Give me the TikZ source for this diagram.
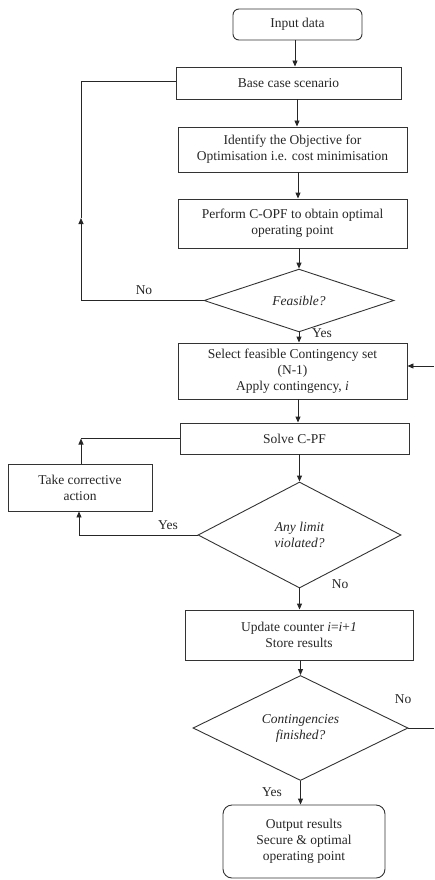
\documentclass[tikz,border=0pt]{standalone}
\usepackage{fontspec}
\setmainfont{Liberation Serif}
\usetikzlibrary{shapes.geometric,arrows.meta}
\begin{document}
\begin{tikzpicture}[x=1pt,y=-1pt,
  every node/.style={font=\fontsize{13.5}{16}\selectfont, text=black!85},
  box/.style={draw=black!80, line width=0.9pt, rectangle, align=center, inner sep=0pt},
  rbox/.style={box, rounded corners=6pt},
  dec/.style={draw=black!80, line width=0.9pt, diamond, align=center, inner sep=0pt, font=\fontsize{13.5}{16}\selectfont\itshape},
  lbl/.style={inner sep=0pt},
  arr/.style={draw=black!85, line width=0.9pt, -{Triangle[length=6pt,width=5pt]}},
  ln/.style={draw=black!85, line width=0.9pt}]
\useasboundingbox (0,0) rectangle (434,880);

\node[rbox, minimum width=129pt, minimum height=31pt] (inp) at (297.5,24.5) {Input data};
\node[box, minimum width=225pt, minimum height=32pt] (base) at (288.5,83) {Base case scenario};
\node[box, minimum width=229pt, minimum height=45pt] (obj) at (292.5,149.5) {Identify the Objective for\\Optimisation i.e. cost minimisation};
\node[box, minimum width=229pt, minimum height=49pt] (opf) at (292.5,223.5) {Perform C-OPF to obtain optimal\\operating point};
\node[dec, minimum width=190pt, minimum height=47pt] (feas) at (299,300.5) {Feasible?};
\node[box, minimum width=229pt, minimum height=56pt] (sel) at (292.5,371) {Select feasible Contingency set\\(N-1)\\Apply contingency, \textit{i}};
\node[box, minimum width=229pt, minimum height=31pt] (pf) at (294.5,438.5) {Solve C-PF};
\node[box, minimum width=144pt, minimum height=47pt] (corr) at (80,487.5) {Take corrective\\action};
\node[dec, minimum width=203pt, minimum height=106pt] (lim) at (299.5,535) {Any limit\\violated?};
\node[box, minimum width=228pt, minimum height=50pt] (upd) at (299,635) {Update counter \textit{i}=\textit{i}+\textit{1}\\Store results};
\node[dec, minimum width=215pt, minimum height=98pt] (cont) at (300.5,728) {Contingencies\\finished?};
\node[rbox, rounded corners=9pt, minimum width=162pt, minimum height=73pt] (out) at (304,841.5) {Output results\\Secure \& optimal\\operating point};

% main column arrows
\draw[arr] (inp.south -| 295,0) -- (base.north -| 295,0);
\draw[arr] (base.south -| 297,0) -- (obj.north -| 297,0);
\draw[arr] (obj.south -| 298,0) -- (opf.north -| 298,0);
\draw[arr] (opf.south -| feas.north) -- (feas.north);
\draw[arr] (feas.south) -- (sel.north -| feas.south);
\draw[arr] (sel.south -| 298,0) -- (pf.north -| 298,0);
\draw[arr] (pf.south -| lim.north) -- (lim.north);
\draw[arr] (lim.south) -- (upd.north -| lim.south);
\draw[arr] (upd.south -| cont.north) -- (cont.north);
\draw[arr] (cont.south) -- (out.north -| cont.south);

% No loop from Feasible
\coordinate (nA) at (81,300.5);
\coordinate (nM) at (81,218);
\coordinate (nB) at (81,81);
\draw[ln] (feas.west) -- (nA);
\draw[arr] (nA) -- (nM);
\draw[ln] (nM) -- (nB) -- (base.west |- nB);
\node[lbl] (no1) at (144,290) {No};
\node[lbl] (yes1) at (322,333) {Yes};

% corrective loop
\coordinate (yA) at (79,535);
\draw[ln] (lim.west) -- (yA);
\draw[arr] (yA) -- (corr.south -| yA);
\coordinate (cA) at (81,438.5);
\draw[arr] (corr.north -| cA) -- (cA);
\draw[ln] (cA) -- (pf.west);
\node[lbl] (yes2) at (168,525) {Yes};
\node[lbl] (no2) at (340,584) {No};

% contingency loop (off page)
\coordinate (rA) at (434,366);
\draw[arr] (rA) -- (sel.east |- rA);
\coordinate (rB) at (434,728);
\draw[ln] (cont.east) -- (rB);
\node[lbl] (no3) at (403,699) {No};
\node[lbl] (yes3) at (272,792) {Yes};
\end{tikzpicture}
\end{document}
